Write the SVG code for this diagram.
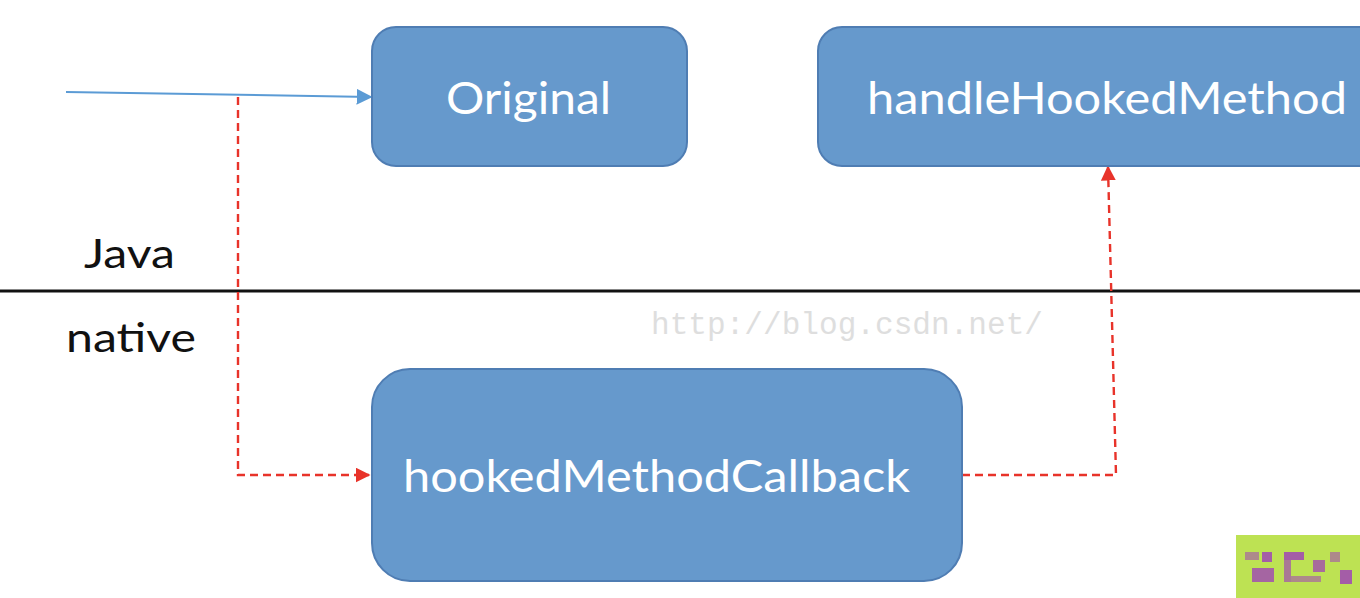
<svg xmlns="http://www.w3.org/2000/svg" width="1360" height="598" viewBox="0 0 1360 598">
<style>
.node rect{fill:#6699cc;stroke:#4f7db3;stroke-width:2}
.node text{fill:#ffffff;font-family:Lato,"Open Sans","Noto Sans",sans-serif;font-size:44px}
.lbl{fill:#111;font-family:Lato,"Open Sans","Noto Sans",sans-serif;font-size:40px}
.red{fill:none;stroke:#e8332a;stroke-width:2.4;stroke-dasharray:8 5}
.mos{fill:#a14fb0}
</style>
<defs>
<marker id="ab" viewBox="0 0 10 10" refX="9" refY="5" markerWidth="16" markerHeight="16" markerUnits="userSpaceOnUse" orient="auto"><path d="M0,0 L10,5 L0,10 z" fill="#5b9bd5"/></marker>
<marker id="ar" viewBox="0 0 10 10" refX="9" refY="5" markerWidth="15" markerHeight="15" markerUnits="userSpaceOnUse" orient="auto"><path d="M0,0 L10,5 L0,10 z" fill="#e8332a"/></marker>
</defs>
<rect width="1360" height="598" fill="#ffffff"/>
<line x1="0" y1="291" x2="1360" y2="291" stroke="#111" stroke-width="3"/>
<text class="lbl" x="84" y="268" textLength="91" lengthAdjust="spacingAndGlyphs">Java</text>
<text class="lbl" x="66" y="352" textLength="130" lengthAdjust="spacingAndGlyphs">native</text>
<text x="651" y="334" font-family="'Liberation Mono',monospace" font-size="31" fill="#dedede" textLength="392" lengthAdjust="spacingAndGlyphs">http://blog.csdn.net/</text>
<g id="connectors">
<line x1="66" y1="92" x2="371" y2="97" stroke="#5b9bd5" stroke-width="2" marker-end="url(#ab)"/>
<polyline class="red" points="238,97 238,475 369,475" marker-end="url(#ar)"/>
<polyline class="red" points="962,475 1116,475 1108,167" marker-end="url(#ar)"/>
</g>
<g id="original" class="node">
<rect x="372" y="27" width="315" height="139" rx="24"/>
<text x="446" y="114" textLength="165" lengthAdjust="spacingAndGlyphs">Original</text>
</g>
<g id="handleHookedMethod" class="node">
<rect x="818" y="27" width="580" height="139" rx="24"/>
<text x="867" y="114" textLength="480" lengthAdjust="spacingAndGlyphs">handleHookedMethod</text>
</g>
<g id="hookedMethodCallback" class="node">
<rect x="372" y="369" width="590" height="212" rx="38"/>
<text x="403" y="492" textLength="507" lengthAdjust="spacingAndGlyphs">hookedMethodCallback</text>
</g>
<g id="logo">
<rect x="1236" y="535" width="124" height="63" fill="#bde253"/>
<rect class="mos" x="1245" y="552" width="14" height="8" opacity="0.6"/>
<rect class="mos" x="1252" y="568" width="22" height="14" opacity="0.85"/>
<rect class="mos" x="1262" y="552" width="10" height="10" opacity="0.9"/>
<rect class="mos" x="1284" y="552" width="20" height="8" opacity="0.9"/>
<rect class="mos" x="1284" y="560" width="7" height="22" opacity="0.7"/>
<rect class="mos" x="1291" y="576" width="30" height="6" opacity="0.6"/>
<rect class="mos" x="1313" y="560" width="12" height="12" opacity="0.8"/>
<rect class="mos" x="1330" y="552" width="10" height="10" opacity="0.6"/>
<rect class="mos" x="1340" y="570" width="12" height="14" opacity="0.9"/>
</g>
</svg>
